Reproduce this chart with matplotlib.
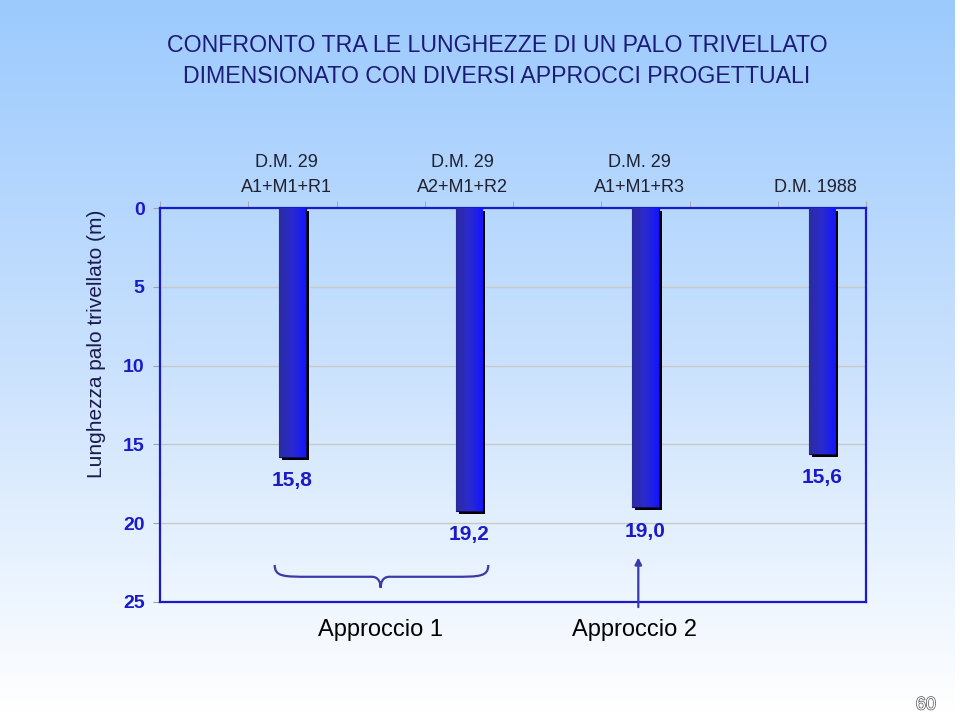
import numpy as np
import matplotlib
matplotlib.use("Agg")
import matplotlib.pyplot as plt
import matplotlib.patheffects as pe
import matplotlib.transforms as mtransforms
from matplotlib.path import Path
from matplotlib.patches import PathPatch
from matplotlib.colors import LinearSegmentedColormap

plt.rcParams['font.family'] = ['Liberation Sans', 'DejaVu Sans']

# data
categorie = ['D.M. 29\nA1+M1+R1', 'D.M. 29\nA2+M1+R2', 'D.M. 29\nA1+M1+R3', 'D.M. 1988']
lunghezze = [15.8, 19.2, 19.0, 15.6]
etichette = ['15,8', '19,2', '19,0', '15,6']
posizioni = [1, 3, 5, 7]
yticks = [0, 5, 10, 15, 20, 25]

W, H = 960, 712
fig = plt.figure(figsize=(W / 100, H / 100), dpi=100)

# slide background (vertical gradient, white strip on the right)
bg = fig.add_axes([0, 0, 1, 1], zorder=-10)
grad = np.linspace(0, 1, 256).reshape(-1, 1)
cmap_bg = LinearSegmentedColormap.from_list('bg', ['#9ccafe', '#c9e1fd', '#ffffff'])
bg.imshow(grad, cmap=cmap_bg, aspect='auto', extent=[0, 955, H, 0])
bg.set_xlim(0, W)
bg.set_ylim(H, 0)
bg.axis('off')

ax = fig.add_axes([160 / W, 1 - 602 / H, 706 / W, 394 / H])
ax.set_facecolor('none')

# bars with shadow and horizontal gradient
cmap_bar = LinearSegmentedColormap.from_list('bar', ['#2c2ca0', '#2a2ad0', '#1414ff'])
gx = np.linspace(0, 1, 64).reshape(1, -1)
bars = ax.bar(posizioni, lunghezze, width=0.3, color='#2222cc', edgecolor='#101050',
              linewidth=0.8, zorder=3,
              path_effects=[pe.SimplePatchShadow(offset=(2.2, -2.2), shadow_rgbFace='black', alpha=1),
                            pe.Normal()])
for b in bars:
    x0, w, h = b.get_x(), b.get_width(), b.get_height()
    im = ax.imshow(gx, cmap=cmap_bar, aspect='auto', extent=[x0, x0 + w, h, 0], zorder=4)
    im.set_clip_path(b)
ax.set_xlim(-0.5, 7.5)
ax.set_ylim(25, 0)

for x, v, t in zip(posizioni, lunghezze, etichette):
    ax.annotate(t, (x, v), xytext=(0, -17), textcoords='offset points', ha='center', va='center',
                fontsize=15, fontweight='bold', color='#1a1ac8', zorder=5)

# axes styling
for s in ax.spines.values():
    s.set_color('#1a1acc')
    s.set_linewidth(1.6)
ax.set_yticks(yticks)
ax.set_yticklabels([str(v) for v in yticks], fontsize=14, fontweight='bold', color='#1a1ac8')
ax.tick_params(axis='y', length=5, color='#a0a0a0', pad=6)
ax.yaxis.grid(True, color='#c8c8c8', linewidth=1)
ax.set_axisbelow(True)

ax.xaxis.tick_top()
ax.set_xticks(posizioni)
ax.set_xticklabels(categorie, fontsize=13, color='#202030', linespacing=1.6)
ax.set_xticks(np.arange(-0.5, 8, 1), minor=True)
ax.tick_params(axis='x', which='major', length=0, pad=9)
ax.tick_params(axis='x', which='minor', length=5, color='#a0a0a0', top=True, bottom=False)
shift = mtransforms.ScaledTranslation(-6 / 100, 0, fig.dpi_scale_trans)
for lab in ax.get_xticklabels():
    lab.set_transform(lab.get_transform() + shift)

fig.text(97 / W, 1 - 344 / H, 'Lunghezza palo trivellato (m)', rotation=90, ha='center', va='center',
         fontsize=15, color='#1a1a50')

# title
fig.text(497 / W, 1 - 61 / H, 'CONFRONTO TRA LE LUNGHEZZE DI UN PALO TRIVELLATO\n'
         'DIMENSIONATO CON DIVERSI APPROCCI PROGETTUALI',
         ha='center', va='center', fontsize=16.7, color='#1c1c78', linespacing=1.45)

# brace under first two bars
bx0, bx1, bxc = 0.8, 3.22, 2.0
yt, ym, yp = 22.65, 23.4, 24.1
verts = [(bx0, yt), (bx0, ym), (bx0 + 0.1, ym), (bx0 + 0.4, ym),
         (bxc - 0.3, ym), (bxc - 0.3, ym), (bxc - 0.1, ym),
         (bxc - 0.02, ym), (bxc, yp - 0.3), (bxc, yp),
         (bxc, yp - 0.3), (bxc + 0.02, ym), (bxc + 0.1, ym),
         (bxc + 0.3, ym), (bxc + 0.3, ym), (bx1 - 0.4, ym),
         (bx1 - 0.1, ym), (bx1, ym), (bx1, yt)]
codes = [Path.MOVETO, Path.CURVE4, Path.CURVE4, Path.CURVE4,
         Path.LINETO, Path.LINETO, Path.LINETO,
         Path.CURVE4, Path.CURVE4, Path.CURVE4,
         Path.CURVE4, Path.CURVE4, Path.CURVE4,
         Path.LINETO, Path.LINETO, Path.LINETO,
         Path.CURVE4, Path.CURVE4, Path.CURVE4]
ax.add_patch(PathPatch(Path(verts, codes), fill=False, edgecolor='#3a3aa8', linewidth=1.6,
                       clip_on=False, zorder=5))

# arrow towards third bar
ax.annotate('', xy=(4.92, 22.0), xytext=(4.92, 25.5),
            arrowprops=dict(arrowstyle='-|>', color='#3a3aa8', lw=1.6, mutation_scale=10),
            annotation_clip=False)

fig.text(380 / W, 1 - 630 / H, 'Approccio 1', ha='center', va='center', fontsize=17, color='black')
fig.text(634 / W, 1 - 630 / H, 'Approccio 2', ha='center', va='center', fontsize=17, color='black')

fig.text(926 / W, 1 - 705 / H, '60', ha='center', va='center', fontsize=13, color='white',
         path_effects=[pe.withStroke(linewidth=0.9, foreground='#404040')])

fig.savefig('out.png', dpi=100)
